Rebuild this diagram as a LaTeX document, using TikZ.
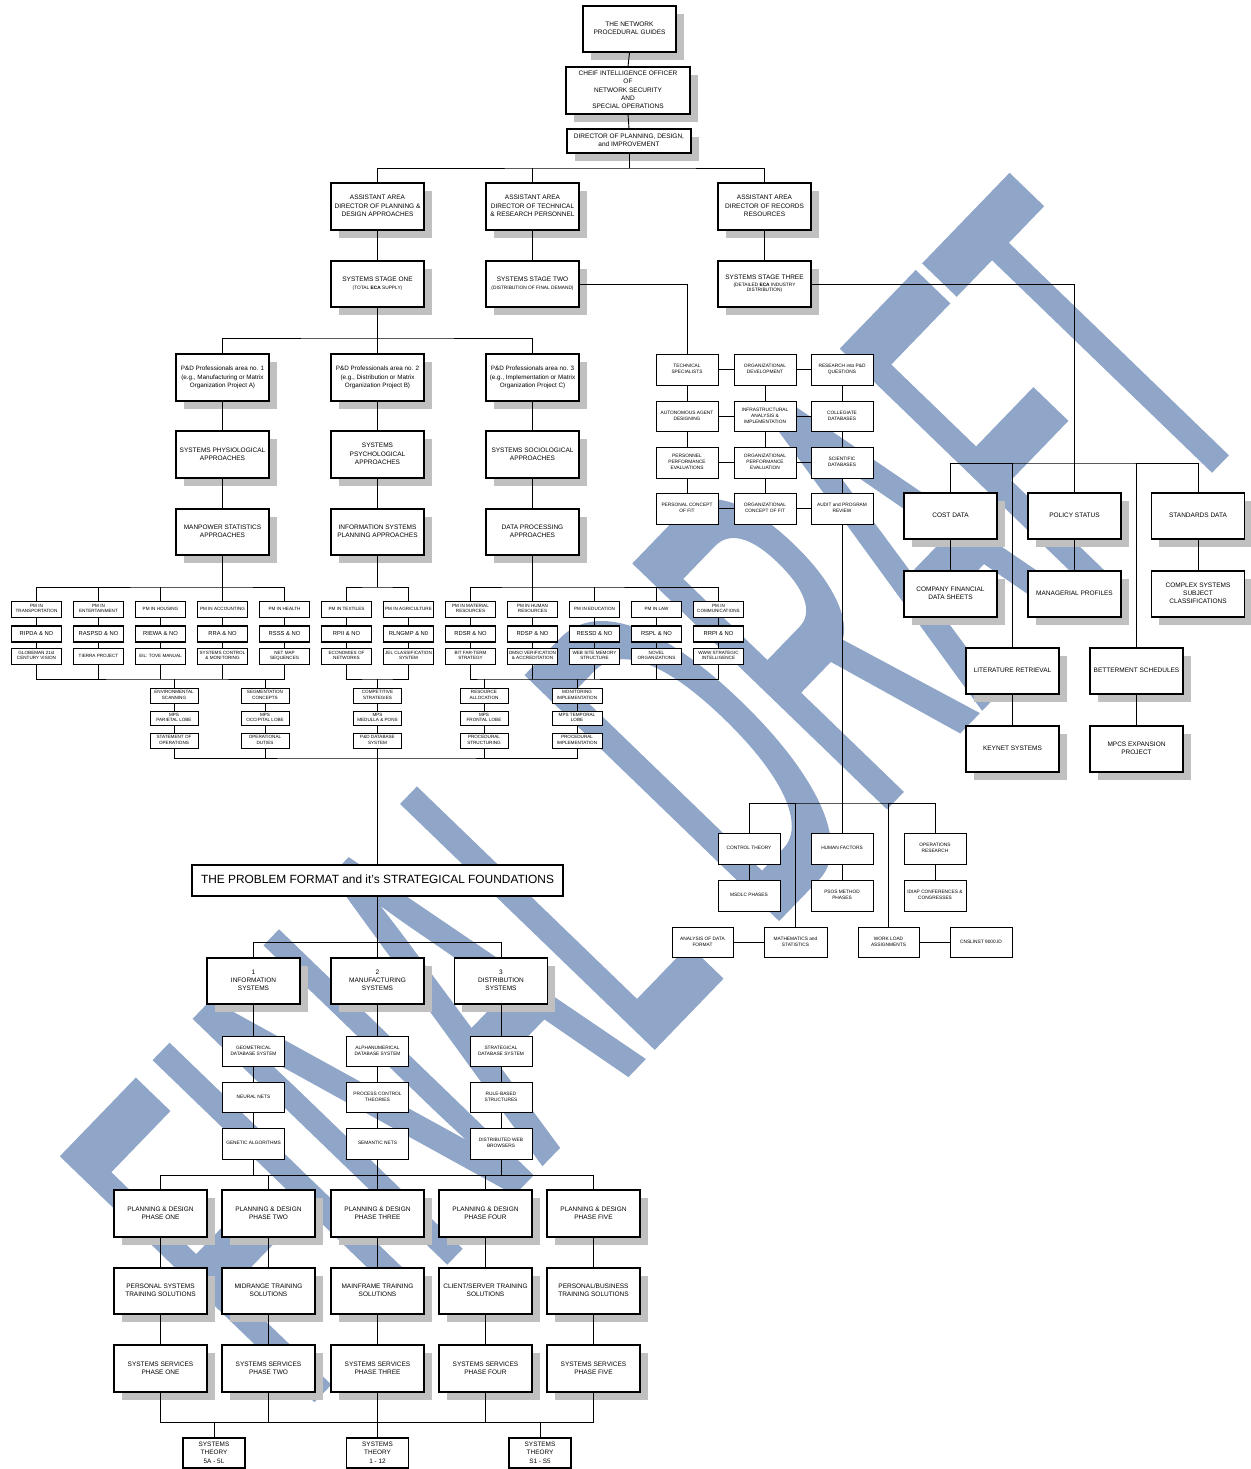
\documentclass[tikz,border=0pt]{standalone}
\usepackage{fontspec}
\setmainfont{Liberation Sans}
\newfontfamily\WmFont{Liberation Sans}[FakeBold=2]
\usetikzlibrary{shadows}
\definecolor{wm}{RGB}{143,166,200}
\definecolor{shd}{RGB}{192,192,192}
\newcommand\FntB{\fontsize{6.5}{8.2}\selectfont}
\newcommand\FntP{\fontsize{6.3}{8.2}\selectfont}
\newcommand\FntS{\fontsize{4.8}{6.0}\selectfont}
\newcommand\FntT{\fontsize{4.6}{5.4}\selectfont}
\newcommand\FntM{\fontsize{5.8}{7}\selectfont}
\newcommand\FntH{\fontsize{11.9}{14}\selectfont}
\newcommand\FntTh{\fontsize{6.4}{8.7}\selectfont}
\newcommand\Bx[7][]{\node[box,#1,minimum width=#5pt,minimum height=#6pt] (#2) at (#3,#4) {\makebox[#5pt]{\begin{tabular}{@{}c@{}}#7\end{tabular}}};}
\begin{document}
\begin{tikzpicture}[x=1pt,y=-1pt,
  box/.style={draw, line width=1.1pt, fill=white, inner sep=0pt, font=\FntB},
  sh/.style={drop shadow={shadow xshift=7.5pt, shadow yshift=-8pt, fill=shd, opacity=1}},
  sm/.style={line width=1pt, font=\FntS},
  pmt/.style={line width=1pt, font=\FntT},
  pmb/.style={line width=1.6pt, font=\FntM},
  ln/.style={line width=0.9pt},
  every path/.append style={line cap=rect}]
\fill[white] (0,0) rectangle (1250,1469);
\useasboundingbox (0,0) rectangle (1250,1469);
% watermark
\node[anchor=base west, rotate=46, text=wm, inner sep=0pt, font=\WmFont\fontsize{500}{500}\selectfont] (wmk) at (300,1410) {\scalebox{0.43}[1]{FINAL DRAFT}};

% ---------- top ----------
\Bx[sh]{net}{629.5}{29}{93}{46}{THE NETWORK\\PROCEDURAL GUIDES}
\Bx[sh]{cio}{628}{90.5}{124}{47}{CHEIF INTELLIGENCE OFFICER\\OF\\NETWORK SECURITY\\AND\\SPECIAL OPERATIONS}
\Bx[sh]{dir}{629}{141}{124}{24}{DIRECTOR OF PLANNING, DESIGN,\\and IMPROVEMENT}
\Bx[sh]{aadA}{377.5}{206.5}{93}{47}{ASSISTANT AREA\\DIRECTOR OF PLANNING \&\\DESIGN APPROACHES}
\Bx[sh]{aadB}{532.5}{206.5}{93}{47}{ASSISTANT AREA\\DIRECTOR OF TECHNICAL\\\& RESEARCH PERSONNEL}
\Bx[sh]{aadC}{764.5}{206.5}{93}{47}{ASSISTANT AREA\\DIRECTOR OF RECORDS\\RESOURCES}
\Bx[sh]{ssA}{377.5}{284}{93}{46}{SYSTEMS STAGE ONE\\{\FntS (TOTAL \textbf{ECA} SUPPLY)}}
\Bx[sh]{ssB}{532.5}{284}{93}{46}{SYSTEMS STAGE TWO\\{\FntS (DISTRIBUTION OF FINAL DEMAND)}}
\Bx[sh]{ssC}{764.5}{284}{93}{46}{SYSTEMS STAGE THREE\\[-2pt]{\FntS (DETAILED \textbf{ECA} INDUSTRY}\\[-3pt]{\FntS DISTRIBUTION)}}

% ---------- P&D ----------
\Bx[sh,font=\FntP]{pdA}{222.5}{377.5}{93}{47}{P\&D Professionals area no. 1\\(e.g., Manufacturing or Matrix\\Organization Project A)}
\Bx[sh,font=\FntP]{pdB}{377.5}{377.5}{93}{47}{P\&D Professionals area no. 2\\(e.g., Distribution or Matrix\\Organization Project B)}
\Bx[sh,font=\FntP]{pdC}{532.5}{377.5}{93}{47}{P\&D Professionals area no. 3\\(e.g., Implementation or Matrix\\Organization Project C)}
\Bx[sh]{spA}{222.5}{454.5}{93}{47}{SYSTEMS PHYSIOLOGICAL\\APPROACHES}
\Bx[sh]{spB}{377.5}{454.5}{93}{47}{SYSTEMS\\PSYCHOLOGICAL\\APPROACHES}
\Bx[sh]{spC}{532.5}{454.5}{93}{47}{SYSTEMS SOCIOLOGICAL\\APPROACHES}
\Bx[sh]{apA}{222.5}{532}{93}{46}{MANPOWER STATISTICS\\APPROACHES}
\Bx[sh]{apB}{377.5}{532}{93}{46}{INFORMATION SYSTEMS\\PLANNING APPROACHES}
\Bx[sh]{apC}{532.5}{532}{93}{46}{DATA PROCESSING\\APPROACHES}

% ---------- PM rows ----------
\Bx[pmt]{pm1}{36.5}{609}{50}{16}{PM IN\\TRANSPORTATION}
\Bx[pmt]{pm2}{98.5}{609}{50}{16}{PM IN\\ENTERTAINMENT}
\Bx[pmt]{pm3}{160.5}{609}{50}{16}{PM IN HOUSING}
\Bx[pmt]{pm4}{222.5}{609}{50}{16}{PM IN ACCOUNTING}
\Bx[pmt]{pm5}{284.5}{609}{50}{16}{PM IN HEALTH}
\Bx[pmt]{pm6}{346.5}{609}{50}{16}{PM IN TEXTILES}
\Bx[pmt]{pm7}{408.5}{609}{50}{16}{PM IN AGRICULTURE}
\Bx[pmt]{pm8}{470.5}{609}{50}{16}{PM IN MATERIAL\\RESOURCES}
\Bx[pmt]{pm9}{532.5}{609}{50}{16}{PM IN HUMAN\\RESOURCES}
\Bx[pmt]{pm10}{594.5}{609}{50}{16}{PM IN EDUCATION}
\Bx[pmt]{pm11}{656.5}{609}{50}{16}{PM IN LAW}
\Bx[pmt]{pm12}{718.5}{609}{50}{16}{PM IN\\COMMUNICATIONS}

\Bx[pmb]{r1}{36.5}{634}{50}{16}{RIPDA \& NO}
\Bx[pmb]{r2}{98.5}{634}{50}{16}{RASPSD \& NO}
\Bx[pmb]{r3}{160.5}{634}{50}{16}{RIEWA \& NO}
\Bx[pmb]{r4}{222.5}{634}{50}{16}{RRA \& NO}
\Bx[pmb]{r5}{284.5}{634}{50}{16}{RSSS \& NO}
\Bx[pmb]{r6}{346.5}{634}{50}{16}{RPII \& NO}
\Bx[pmb]{r7}{408.5}{634}{50}{16}{RLNGMP \& N0}
\Bx[pmb]{r8}{470.5}{634}{50}{16}{RDSR \& NO}
\Bx[pmb]{r9}{532.5}{634}{50}{16}{RDSP \& NO}
\Bx[pmb]{r10}{594.5}{634}{50}{16}{RESSD \& NO}
\Bx[pmb]{r11}{656.5}{634}{50}{16}{RSPL \& NO}
\Bx[pmb]{r12}{718.5}{634}{50}{16}{RRPI \& NO}

\Bx[pmt]{q1}{36.5}{656}{50}{16}{GLOBEMAN 21st\\CENTURY VISION}
\Bx[pmt]{q2}{98.5}{656}{50}{16}{TIERRA PROJECT}
\Bx[pmt]{q3}{160.5}{656}{50}{16}{EIL: TOVE MANUAL}
\Bx[pmt]{q4}{222.5}{656}{50}{16}{SYSTEMS CONTROL\\\& MONITORING}
\Bx[pmt]{q5}{284.5}{656}{50}{16}{NET MAP\\SEQUENCES}
\Bx[pmt]{q6}{346.5}{656}{50}{16}{ECONOMIES OF\\NETWORKS}
\Bx[pmt]{q7}{408.5}{656}{50}{16}{JEL CLASSIFICATION\\SYSTEM}
\Bx[pmt]{q8}{470.5}{656}{50}{16}{BIT FAR-TERM\\STRATEGY}
\Bx[pmt]{q9}{532.5}{656}{50}{16}{DMSO VERIFICATION\\\& ACCREDITATION}
\Bx[pmt]{q10}{594.5}{656}{50}{16}{WEB SITE MEMORY\\STRUCTURE}
\Bx[pmt]{q11}{656.5}{656}{50}{16}{NOVEL\\ORGANIZATIONS}
\Bx[pmt]{q12}{718.5}{656}{50}{16}{WWW STRATEGIC\\INTELLIGENCE}

% ---------- small boxes ----------
\Bx[pmt]{eA}{174}{695.5}{48}{15}{ENVIRONMENTAL\\SCANNING}
\Bx[pmt]{eB}{265}{695.5}{48}{15}{SEGMENTATION\\CONCEPTS}
\Bx[pmt]{eC}{377.5}{695.5}{48}{15}{COMPETITIVE\\STRATEGIES}
\Bx[pmt]{eD}{484}{695.5}{48}{15}{RESOURCE\\ALLOCATION}
\Bx[pmt]{eE}{577}{695.5}{50}{15}{MONITORING\\IMPLEMENTATION}
\Bx[pmt]{mA}{174}{718}{48}{14}{MPS\\PARIETAL LOBE}
\Bx[pmt]{mB}{265}{718}{48}{14}{MPS\\OCCIPITAL LOBE}
\Bx[pmt]{mC}{377.5}{718}{48}{14}{MPS\\MEDULLA \& PONS}
\Bx[pmt]{mD}{484}{718}{48}{14}{MPS\\FRONTAL LOBE}
\Bx[pmt]{mE}{577}{718}{50}{14}{MPS TEMPORAL\\LOBE}
\Bx[pmt]{oA}{174}{740.5}{48}{15}{STATEMENT OF\\OPERATIONS}
\Bx[pmt]{oB}{265}{740.5}{48}{15}{OPERATIONAL\\DUTIES}
\Bx[pmt]{oC}{377.5}{740.5}{48}{15}{P\&D DATABASE\\SYSTEM}
\Bx[pmt]{oD}{484}{740.5}{48}{15}{PROCEDURAL\\STRUCTURING}
\Bx[pmt]{oE}{577}{740.5}{50}{15}{PROCEDURAL\\IMPLEMENTATION}

% ---------- problem & systems ----------
\Bx[font=\FntH]{prob}{377.5}{880.5}{371}{31}{THE PROBLEM FORMAT and it's STRATEGICAL FOUNDATIONS}
\Bx[sh]{isys}{253.5}{981}{93}{46}{1\\INFORMATION\\SYSTEMS}
\Bx[sh]{msys}{377.5}{981}{93}{46}{2\\MANUFACTURING\\SYSTEMS}
\Bx[sh]{dsys}{501}{981}{93}{46}{3\\DISTRIBUTION\\SYSTEMS}
\Bx[sm]{gA1}{253.5}{1051}{62}{30}{GEOMETRICAL\\DATABASE SYSTEM}
\Bx[sm]{gA2}{253.5}{1097}{62}{30}{NEURAL NETS}
\Bx[sm]{gA3}{253.5}{1143.5}{62}{31}{GENETIC ALGORITHMS}
\Bx[sm]{gB1}{377.5}{1051}{62}{30}{ALPHANUMERICAL\\DATABASE SYSTEM}
\Bx[sm]{gB2}{377.5}{1097}{62}{30}{PROCESS CONTROL\\THEORIES}
\Bx[sm]{gB3}{377.5}{1143.5}{62}{31}{SEMANTIC NETS}
\Bx[sm]{gC1}{501}{1051}{62}{30}{STRATEGICAL\\DATABASE SYSTEM}
\Bx[sm]{gC2}{501}{1097}{62}{30}{RULE-BASED\\STRUCTURES}
\Bx[sm]{gC3}{501}{1143.5}{62}{31}{DISTRIBUTED WEB\\BROWSERS}

% ---------- planning ----------
\Bx[sh]{plA}{160.5}{1213.5}{93}{47}{PLANNING \& DESIGN\\PHASE ONE}
\Bx[sh]{plB}{268.5}{1213.5}{93}{47}{PLANNING \& DESIGN\\PHASE TWO}
\Bx[sh]{plC}{377.5}{1213.5}{93}{47}{PLANNING \& DESIGN\\PHASE THREE}
\Bx[sh]{plD}{485.5}{1213.5}{93}{47}{PLANNING \& DESIGN\\PHASE FOUR}
\Bx[sh]{plE}{593.5}{1213.5}{93}{47}{PLANNING \& DESIGN\\PHASE FIVE}
\Bx[sh]{trA}{160.5}{1291}{93}{46}{PERSONAL SYSTEMS\\TRAINING SOLUTIONS}
\Bx[sh]{trB}{268.5}{1291}{93}{46}{MIDRANGE TRAINING\\SOLUTIONS}
\Bx[sh]{trC}{377.5}{1291}{93}{46}{MAINFRAME TRAINING\\SOLUTIONS}
\Bx[sh]{trD}{485.5}{1291}{93}{46}{CLIENT/SERVER TRAINING\\SOLUTIONS}
\Bx[sh]{trE}{593.5}{1291}{93}{46}{PERSONAL/BUSINESS\\TRAINING SOLUTIONS}
\Bx[sh]{svA}{160.5}{1368.5}{93}{47}{SYSTEMS SERVICES\\PHASE ONE}
\Bx[sh]{svB}{268.5}{1368.5}{93}{47}{SYSTEMS SERVICES\\PHASE TWO}
\Bx[sh]{svC}{377.5}{1368.5}{93}{47}{SYSTEMS SERVICES\\PHASE THREE}
\Bx[sh]{svD}{485.5}{1368.5}{93}{47}{SYSTEMS SERVICES\\PHASE FOUR}
\Bx[sh]{svE}{593.5}{1368.5}{93}{47}{SYSTEMS SERVICES\\PHASE FIVE}
\Bx[font=\FntTh]{thA}{214}{1453}{62}{30}{SYSTEMS\\THEORY\\5A - 5L}
\Bx[font=\FntTh]{thB}{377.5}{1453}{62}{30}{SYSTEMS\\THEORY\\1 - 12}
\Bx[font=\FntTh]{thC}{540}{1453}{62}{30}{SYSTEMS\\THEORY\\S1 - S5}

% ---------- right grid ----------
\Bx[sm]{tech}{687}{369.5}{62}{31}{TECHNICAL\\SPECIALISTS}
\Bx[sm]{odev}{765}{369.5}{62}{31}{ORGANIZATIONAL\\DEVELOPMENT}
\Bx[sm]{resq}{842}{369.5}{62}{31}{RESEARCH into P\&D\\QUESTIONS}
\Bx[sm]{auto}{687}{416}{62}{30}{AUTONOMOUS AGENT\\DESIGNING}
\Bx[sm]{infra}{765}{416}{62}{30}{INFRASTRUCTURAL\\ANALYSIS \&\\IMPLEMENTATION}
\Bx[sm]{coll}{842}{416}{62}{30}{COLLEGIATE\\DATABASES}
\Bx[sm]{pers}{687}{462.5}{62}{31}{PERSONNEL\\PERFORMANCE\\EVALUATIONS}
\Bx[sm]{operf}{765}{462.5}{62}{31}{ORGANIZATIONAL\\PERFORMANCE\\EVALUATION}
\Bx[sm]{sci}{842}{462.5}{62}{31}{SCIENTIFIC\\DATABASES}
\Bx[sm]{pcof}{687}{508.5}{62}{31}{PERSONAL CONCEPT\\OF FIT}
\Bx[sm]{ocof}{765}{508.5}{62}{31}{ORGANIZATIONAL\\CONCEPT OF FIT}
\Bx[sm]{audit}{842}{508.5}{62}{31}{AUDIT and PROGRAM\\REVIEW}

% ---------- right big ----------
\Bx[sh]{cost}{950.5}{516}{93}{46}{COST DATA}
\Bx[sh]{pol}{1074.5}{516}{93}{46}{POLICY STATUS}
\Bx[sh]{stand}{1198}{516}{93}{46}{STANDARDS DATA}
\Bx[sh]{cfin}{950.5}{594}{93}{46}{COMPANY FINANCIAL\\DATA SHEETS}
\Bx[sh]{mgr}{1074.5}{594}{93}{46}{MANAGERIAL PROFILES}
\Bx[sh]{cplx}{1198}{594}{93}{46}{COMPLEX SYSTEMS\\SUBJECT\\CLASSIFICATIONS}
\Bx[sh]{lit}{1012.5}{671}{93}{46}{LITERATURE RETRIEVAL}
\Bx[sh]{bet}{1136.5}{671}{93}{46}{BETTERMENT SCHEDULES}
\Bx[sh]{key}{1012.5}{749}{93}{46}{KEYNET SYSTEMS}
\Bx[sh]{mpcs}{1136.5}{749}{93}{46}{MPCS EXPANSION\\PROJECT}

% ---------- bottom right ----------
\Bx[sm]{ctrl}{749}{848.5}{62}{31}{CONTROL THEORY}
\Bx[sm]{hum}{842}{848.5}{62}{31}{HUMAN FACTORS}
\Bx[sm]{ops}{935}{848.5}{62}{31}{OPERATIONS\\RESEARCH}
\Bx[sm]{msd}{749}{895.5}{62}{31}{MSDLC PHASES}
\Bx[sm]{psos}{842}{895.5}{62}{31}{PSOS METHOD\\PHASES}
\Bx[sm]{idiap}{935}{895.5}{62}{31}{IDIAP CONFERENCES \&\\CONGRESSES}
\Bx[sm]{ana}{702.5}{942}{61}{30}{ANALYSIS OF DATA\\FORMAT}
\Bx[sm]{math}{795.5}{942}{63}{30}{MATHEMATICS and\\STATISTICS}
\Bx[sm]{work}{888.5}{942}{61}{30}{WORK LOAD\\ASSIGNMENTS}
\Bx[sm]{cnsl}{981}{942}{62}{30}{CNSLINST 9000.ID}

% ---------- connectors ----------
\begin{scope}[ln]
\draw (net.south) -- (cio.north);
\draw (cio.south) -- (dir.north);
\coordinate (b1) at (629,168);
\draw (dir.south) -- (b1);
\draw (aadA.north) |- (b1) -| (aadC.north);
\draw (aadB.north) -- (aadB.north |- b1);
\draw (aadA.south) -- (ssA.north);
\draw (aadB.south) -- (ssB.north);
\draw (aadC.south) -- (ssC.north);
\coordinate (bP) at (377.5,338);
\draw (ssA.south) -- (pdB.north);
\draw (pdA.north) |- (bP) -| (pdC.north);
\foreach \c in {A,B,C}{\draw (pd\c.south) -- (sp\c.north); \draw (sp\c.south) -- (ap\c.north);}
% PM groups
\coordinate (u1) at (222.5,587);
\coordinate (u2) at (377.5,587);
\coordinate (u3) at (532.5,587);
\coordinate (d1) at (174,679);
\coordinate (d2) at (377.5,679);
\coordinate (d3) at (484,679);
\draw (apA.south) -- (pm4.north);
\draw (pm1.north) |- (u1) -| (pm5.north);
\draw (pm2.north) -- (pm2.north |- u1);
\draw (pm3.north) -- (pm3.north |- u1);
\draw (apB.south) -- (u2);
\draw (pm6.north) |- (u2) -| (pm7.north);
\draw (apC.south) -- (pm9.north);
\draw (pm8.north) |- (u3) -| (pm12.north);
\draw (pm10.north) -- (pm10.north |- u3);
\draw (pm11.north) -- (pm11.north |- u3);
\foreach \i in {1,...,12}{\draw (pm\i.south) -- (r\i.north); \draw (r\i.south) -- (q\i.north);}
\draw (q1.south) |- (d1) -| (q5.south);
\foreach \i in {2,3,4}{\draw (q\i.south) -- (q\i.south |- d1);}
\draw (eA.north) -- (eA.north |- d1);
\draw (eB.north) -- (eB.north |- d1);
\draw (q6.south) |- (d2) -| (q7.south);
\draw (d2) -- (eC.north);
\draw (q8.south) |- (d3) -| (q12.south);
\foreach \i in {9,10,11}{\draw (q\i.south) -- (q\i.south |- d3);}
\draw (eE.north) -- (eE.north |- d3);
\draw (eD.north) -- (d3);
\foreach \c in {A,B,C,D,E}{\draw (e\c.south) -- (m\c.north); \draw (m\c.south) -- (o\c.north);}
\coordinate (f1) at (377.5,758);
\draw (oA.south) |- (f1) -| (oE.south);
\draw (oB.south) -- (oB.south |- f1);
\draw (oD.south) -- (oD.south |- f1);
\draw (oC.south) -- (prob.north);
% systems
\coordinate (b3) at (377.5,942);
\draw (prob.south) -- (msys.north);
\draw (isys.north) |- (b3) -| (dsys.north);
\draw (isys.south) -- (gA1.north);
\draw (msys.south) -- (gB1.north);
\draw (dsys.south) -- (gC1.north);
\foreach \c in {A,B,C}{\draw (g\c1.south) -- (g\c2.north); \draw (g\c2.south) -- (g\c3.north);}
\coordinate (b4) at (377.5,1175);
\draw (gB3.south) -- (plC.north);
\draw (gA3.south) -- (gA3.south |- b4);
\draw (gC3.south) -- (gC3.south |- b4);
\draw (plA.north) |- (b4) -| (plE.north);
\draw (plB.north) -- (plB.north |- b4);
\draw (plD.north) -- (plD.north |- b4);
\foreach \c in {A,B,C,D,E}{\draw (pl\c.south) -- (tr\c.north); \draw (tr\c.south) -- (sv\c.north);}
\coordinate (b5) at (377.5,1422);
\draw (svA.south) |- (b5) -| (svE.south);
\draw (svB.south) -- (svB.south |- b5);
\draw (svD.south) -- (svD.south |- b5);
\draw (svC.south) -- (thB.north);
\draw (thA.north) -- (thA.north |- b5);
\draw (thC.north) -- (thC.north |- b5);
% right grid
\draw (ssB.east) -| (tech.north);
\draw (tech.east) -- (odev.west); \draw (odev.east) -- (resq.west);
\draw (auto.east) -- (infra.west); \draw (infra.east) -- (coll.west);
\draw (pers.east) -- (operf.west); \draw (operf.east) -- (sci.west);
\draw (pcof.east) -- (ocof.west); \draw (ocof.east) -- (audit.west);
\draw (tech.south) -- (auto.north); \draw (auto.south) -- (pers.north); \draw (pers.south) -- (pcof.north);
\draw (odev.south) -- (infra.north); \draw (infra.south) -- (operf.north); \draw (operf.south) -- (ocof.north);
\draw (resq.south) -- (coll.north); \draw (coll.south) -- (sci.north); \draw (sci.south) -- (audit.north);
% right big
\draw (ssC.east) -| (pol.north);
\coordinate (b6) at (1074.5,463);
\draw (cost.north) |- (b6) -| (stand.north);
\draw (lit.north) -- (lit.north |- b6);
\draw (bet.north) -- (bet.north |- b6);
\draw (cost.south) -- (cfin.north);
\draw (pol.south) -- (mgr.north);
\draw (stand.south) -- (cplx.north);
\draw (lit.south) -- (key.north);
\draw (bet.south) -- (mpcs.north);
% bottom right
\coordinate (b7) at (842,803);
\draw (audit.south) -- (hum.north);
\draw (ctrl.north) |- (b7) -| (ops.north);
\draw (math.north) -- (math.north |- b7);
\draw (work.north) -- (work.north |- b7);
\draw (ctrl.south) -- (msd.north);
\draw (hum.south) -- (psos.north);
\draw (ops.south) -- (idiap.north);
\draw (ana.east) -- (math.west);
\draw (work.east) -- (cnsl.west);
\end{scope}
\end{tikzpicture}
\end{document}
